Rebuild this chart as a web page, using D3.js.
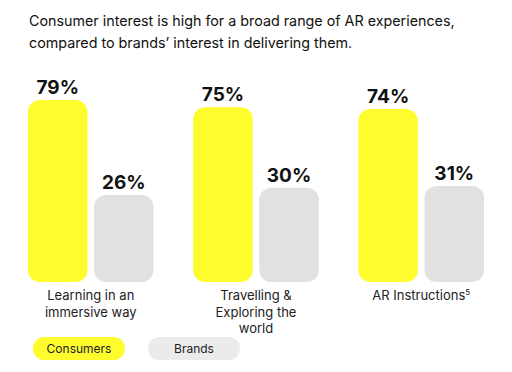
<!DOCTYPE html>
<html>
<head>
<meta charset="utf-8">
<script src="https://cdn.jsdelivr.net/npm/d3@7"></script>
<style>
  body { margin: 0; background: #fff; }
  text { font-family: Inter, "Noto Sans", sans-serif; }
</style>
</head>
<body>
<div id="chart"></div>
<script>
// Data
const categories = [["Learning in an", "immersive way"], ["Travelling &", "Exploring the", "world"], ["AR Instructions"]];
const series = ["Consumers", "Brands"];
const consumers = [79, 75, 74];
const brands = [26, 30, 31];
const colors = ["#FFFC2E", "#E1E1E1"];
const legendColors = ["#FFFC2E", "#EBEBEB"];

const width = 512, height = 372;

const svg = d3.select("#chart")
  .append("svg")
  .attr("width", width)
  .attr("height", height);

// Title
svg.append("text")
  .attr("x", 29).attr("y", 26)
  .attr("font-size", 14.3)
  .attr("fill", "#111")
  .text("Consumer interest is high for a broad range of AR experiences,");
svg.append("text")
  .attr("x", 29).attr("y", 48)
  .attr("font-size", 14.3)
  .attr("fill", "#111")
  .text("compared to brands\u2019 interest in delivering them.");

// Scales
const x0 = d3.scaleBand()
  .domain(d3.range(categories.length))
  .range([28, 484])
  .paddingInner(0.24)
  .paddingOuter(0);

const x1 = d3.scaleBand()
  .domain(series)
  .range([0, x0.bandwidth()])
  .paddingInner(0.1);

// bars are not drawn from zero in the original, baseline sits below 0
const y = d3.scaleLinear()
  .domain([-22.5, 79])
  .range([282, 100]);

const rows = consumers.map((c, i) => ({ i, values: [c, brands[i]] }));

const groups = svg.selectAll(".group")
  .data(rows)
  .enter().append("g")
  .attr("class", "group")
  .attr("transform", d => `translate(${x0(d.i)},0)`);

groups.selectAll("rect")
  .data(d => d.values.map((v, j) => ({ key: series[j], v, j })))
  .enter().append("rect")
  .attr("x", d => x1(d.key))
  .attr("y", d => y(d.v))
  .attr("width", x1.bandwidth())
  .attr("height", d => y.range()[0] - y(d.v))
  .attr("rx", 12)
  .attr("fill", d => colors[d.j]);

groups.selectAll(".val")
  .data(d => d.values.map((v, j) => ({ key: series[j], v, j })))
  .enter().append("text")
  .attr("class", "val")
  .attr("x", d => x1(d.key) + x1.bandwidth() / 2)
  .attr("y", d => y(d.v) - 6)
  .attr("text-anchor", "middle")
  .attr("font-size", 19)
  .attr("font-weight", 700)
  .attr("fill", "#111")
  .text(d => d.v + "%");

// Category labels
groups.each(function(d) {
  const t = d3.select(this).append("text")
    .attr("x", x0.bandwidth() / 2)
    .attr("y", 300)
    .attr("text-anchor", "middle")
    .attr("font-size", 13)
    .attr("fill", "#222");
  categories[d.i].forEach((line, k) => {
    t.append("tspan")
      .attr("x", x0.bandwidth() / 2)
      .attr("dy", k === 0 ? 0 : 16.5)
      .text(line);
    if (d.i === 2) {
      t.append("tspan").attr("font-size", 8).attr("dy", -5).text("5");
    }
  });
});

// Legend
const legend = svg.selectAll(".legend")
  .data(series)
  .enter().append("g")
  .attr("class", "legend")
  .attr("transform", (d, i) => `translate(${33 + i * 115},337)`);

legend.append("rect")
  .attr("width", 92)
  .attr("height", 23)
  .attr("rx", 11.5)
  .attr("fill", (d, i) => legendColors[i]);

legend.append("text")
  .attr("x", 46)
  .attr("y", 16)
  .attr("text-anchor", "middle")
  .attr("font-size", 12)
  .attr("fill", "#222")
  .text(d => d);
</script>
</body>
</html>
